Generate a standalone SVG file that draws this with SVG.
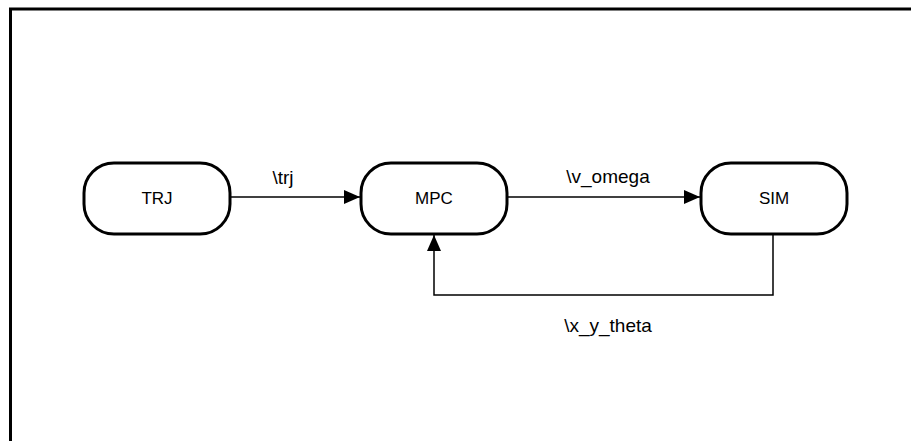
<svg xmlns="http://www.w3.org/2000/svg" width="911" height="441" viewBox="0 0 911 441">
  <style>
    .frame { fill: none; stroke: #000; stroke-width: 3; }
    .node rect { fill: #fff; stroke: #000; stroke-width: 3; }
    .node text { font-family: "Liberation Sans", Arial, sans-serif; font-size: 17px; fill: #000; text-anchor: middle; dominant-baseline: central; }
    .edge { fill: none; stroke: #000; stroke-width: 1.5; }
    .label { font-family: "Liberation Sans", Arial, sans-serif; font-size: 19px; fill: #000; text-anchor: middle; }
  </style>
  <defs>
    <marker id="head" viewBox="0 0 16 14" refX="16" refY="7" markerWidth="16" markerHeight="14" markerUnits="userSpaceOnUse" orient="auto">
      <path d="M0,0 L16,7 L0,14 Z" fill="#000"/>
    </marker>
  </defs>
  <rect width="911" height="441" fill="#fff"/>
  <!-- outer frame: only the left and top sides fall inside the canvas -->
  <path class="frame" d="M10.5,445 V9 H915"/>

  <g id="connectors">
    <line class="edge" x1="231" y1="197" x2="360" y2="197" marker-end="url(#head)"/>
    <line class="edge" x1="507" y1="197" x2="700" y2="197" marker-end="url(#head)"/>
    <polyline class="edge" points="773,234 773,295 434,295 434,235" marker-end="url(#head)"/>
    <text class="label" x="283" y="184">\trj</text>
    <text class="label" x="608" y="183">\v_omega</text>
    <text class="label" x="608" y="332">\x_y_theta</text>
  </g>

  <g id="TRJ" class="node">
    <rect x="84" y="163" width="146" height="71" rx="30" ry="30"/>
    <text x="157" y="198">TRJ</text>
  </g>
  <g id="MPC" class="node">
    <rect x="361" y="163" width="146" height="71" rx="30" ry="30"/>
    <text x="434" y="198">MPC</text>
  </g>
  <g id="SIM" class="node">
    <rect x="701" y="163" width="146" height="71" rx="30" ry="30"/>
    <text x="774" y="198">SIM</text>
  </g>
</svg>
